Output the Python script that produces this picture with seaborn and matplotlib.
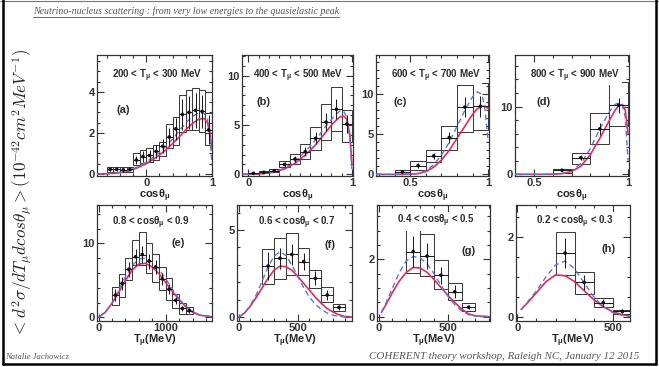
import matplotlib
matplotlib.use("Agg")
import matplotlib.pyplot as plt
from matplotlib.lines import Line2D
from matplotlib.ticker import MultipleLocator, FuncFormatter
import numpy as np
import pandas as pd
import seaborn as sns

# ---------------- data: panel (a) 200 < T < 300 MeV ----------------
A_CENTERS = [-0.55, -0.45, -0.35, -0.25, -0.15, -0.05, 0.05, 0.15, 0.25, 0.35, 0.45, 0.55, 0.65, 0.75, 0.85, 0.95]
A_VALUES = [0.22, 0.22, 0.20, 0.22, 0.68, 0.85, 0.90, 1.10, 1.35, 1.80, 2.20, 2.90, 3.00, 3.10, 3.05, 2.15]
A_ERRORS = [0.10, 0.10, 0.10, 0.10, 0.20, 0.25, 0.25, 0.30, 0.35, 0.45, 0.55, 0.75, 0.80, 0.85, 0.80, 0.70]
A_BOX_LOW = [0.10, 0.10, 0.08, 0.10, 0.44, 0.52, 0.60, 0.68, 0.88, 1.25, 1.41, 2.06, 2.15, 2.15, 2.06, 1.41]
A_BOX_HIGH = [0.35, 0.36, 0.34, 0.36, 1.04, 1.17, 1.25, 1.41, 1.58, 2.42, 2.80, 3.85, 4.10, 4.18, 4.10, 2.96]
A_CURVE_X = [-0.75, -0.6, -0.45, -0.3, -0.15, 0.0, 0.1, 0.2, 0.3, 0.4, 0.5, 0.6, 0.7, 0.8, 0.88, 0.93, 0.97, 1.0]
A_RED = [0.0, 0.01, 0.04, 0.12, 0.28, 0.50, 0.70, 0.92, 1.18, 1.48, 1.80, 2.15, 2.45, 2.68, 2.70, 2.50, 2.00, 1.20]
A_BLUE = [0.0, 0.01, 0.05, 0.14, 0.32, 0.58, 0.80, 1.05, 1.35, 1.70, 2.10, 2.48, 2.80, 2.98, 2.95, 2.70, 1.80, 0.40]

# ---------------- panel (b) 400 < T < 500 MeV ----------------
B_CENTERS = [0.05, 0.15, 0.25, 0.35, 0.45, 0.55, 0.65, 0.75, 0.85, 0.95]
B_VALUES = [0.10, 0.20, 0.35, 1.00, 1.55, 2.30, 3.65, 5.30, 6.60, 5.10]
B_ERRORS = [0.05, 0.08, 0.12, 0.30, 0.35, 0.45, 0.60, 0.90, 1.00, 0.90]
B_BOX_LOW = [0.05, 0.10, 0.20, 0.70, 1.00, 1.60, 2.50, 3.50, 4.40, 3.30]
B_BOX_HIGH = [0.15, 0.30, 0.50, 1.40, 2.10, 3.10, 4.80, 7.10, 8.90, 6.50]
B_CURVE_X = [-0.05, 0.05, 0.15, 0.25, 0.35, 0.45, 0.55, 0.65, 0.75, 0.82, 0.88, 0.92, 0.95, 0.98, 1.0]
B_RED = [0.0, 0.02, 0.08, 0.22, 0.55, 1.10, 1.95, 3.00, 4.30, 5.20, 5.80, 5.90, 5.60, 4.00, 1.00]
B_BLUE = [0.0, 0.02, 0.09, 0.25, 0.62, 1.30, 2.30, 3.50, 4.90, 5.80, 6.40, 6.40, 5.80, 3.50, 0.50]

# ---------------- panel (c) 600 < T < 700 MeV ----------------
C_CENTERS = [0.45, 0.55, 0.65, 0.75, 0.85, 0.95]
C_VALUES = [0.30, 1.10, 2.30, 4.60, 8.40, 8.50]
C_ERRORS = [0.10, 0.30, 0.40, 0.70, 1.20, 1.30]
C_BOX_LOW = [0.10, 0.60, 1.50, 3.00, 5.30, 5.50]
C_BOX_HIGH = [0.55, 1.70, 3.10, 6.10, 11.2, 11.4]
C_CURVE_X = [0.28, 0.4, 0.5, 0.55, 0.6, 0.65, 0.7, 0.75, 0.8, 0.85, 0.9, 0.93, 0.96, 0.98, 1.0]
C_RED = [0.0, 0.0, 0.02, 0.10, 0.35, 0.90, 1.80, 3.00, 4.50, 6.00, 7.50, 8.20, 8.50, 8.50, 8.20]
C_BLUE = [0.0, 0.0, 0.02, 0.12, 0.45, 1.20, 2.40, 4.00, 6.00, 8.00, 9.70, 10.3, 10.0, 8.00, 4.00]

# ---------------- panel (d) 800 < T < 900 MeV ----------------
D_CENTERS = [0.65, 0.75, 0.85, 0.95]
D_VALUES = [0.60, 2.45, 6.70, 10.2]
D_ERRORS = [0.15, 0.40, 0.90, 1.10]
D_BOX_LOW = [0.25, 1.50, 4.40, 7.10]
D_BOX_HIGH = [0.85, 3.20, 9.10, 13.6]
D_CURVE_X = [0.4, 0.55, 0.6, 0.65, 0.7, 0.75, 0.8, 0.85, 0.9, 0.93, 0.95, 0.97, 0.985, 1.0]
D_RED = [0.0, 0.0, 0.02, 0.10, 0.40, 1.20, 2.90, 5.30, 7.90, 9.40, 10.1, 10.3, 9.50, 6.00]
D_BLUE = [0.0, 0.0, 0.02, 0.12, 0.50, 1.60, 3.80, 6.70, 9.20, 10.3, 10.5, 10.2, 8.50, 2.00]

# ---------------- panel (e) 0.8 < cos < 0.9 ----------------
E_CENTERS = [250, 350, 450, 550, 650, 750, 850, 950, 1050, 1150, 1250, 1350]
E_VALUES = [3.0, 4.6, 6.5, 8.2, 8.5, 7.6, 6.8, 5.2, 3.8, 2.3, 1.2, 0.9]
E_ERRORS = [0.8, 0.9, 1.0, 1.1, 1.1, 1.0, 0.9, 0.8, 0.7, 0.5, 0.35, 0.3]
E_BOX_LOW = [1.7, 2.8, 5.0, 7.1, 7.1, 6.0, 4.8, 3.7, 2.3, 1.2, 0.45, 0.45]
E_BOX_HIGH = [4.05, 5.9, 8.0, 10.5, 11.6, 10.0, 8.6, 6.8, 5.3, 3.2, 1.9, 1.4]
E_CURVE_X = [0, 100, 200, 300, 400, 500, 600, 700, 800, 900, 1000, 1100, 1200, 1300, 1400, 1500, 1700]
E_RED = [0.0, 0.7, 1.9, 3.4, 5.0, 6.4, 7.2, 7.3, 6.8, 5.9, 4.7, 3.5, 2.4, 1.4, 0.7, 0.3, 0.05]
E_BLUE = [0.0, 0.7, 2.0, 3.7, 5.5, 7.0, 7.9, 8.0, 7.5, 6.5, 5.2, 3.8, 2.5, 1.5, 0.8, 0.35, 0.05]

# ---------------- panel (f) 0.6 < cos < 0.7 ----------------
F_CENTERS = [250, 350, 450, 550, 650, 750, 850]
F_VALUES = [2.94, 3.38, 3.60, 3.19, 2.23, 1.28, 0.57]
F_ERRORS = [0.80, 0.60, 0.60, 0.50, 0.40, 0.30, 0.15]
F_BOX_LOW = [1.90, 2.18, 2.40, 2.45, 1.66, 0.90, 0.38]
F_BOX_HIGH = [3.90, 4.56, 4.80, 3.95, 2.70, 1.75, 0.74]
F_CURVE_X = [0, 50, 100, 150, 200, 250, 300, 350, 400, 450, 500, 550, 600, 650, 700, 750, 800, 850, 900, 960]
F_RED = [0.0, 0.25, 0.65, 1.15, 1.70, 2.25, 2.70, 2.93, 2.90, 2.70, 2.35, 1.95, 1.55, 1.15, 0.80, 0.50, 0.30, 0.15, 0.05, 0.02]
F_BLUE = [0.0, 0.25, 0.70, 1.30, 2.10, 2.90, 3.50, 3.75, 3.55, 3.00, 2.35, 1.70, 1.15, 0.75, 0.45, 0.25, 0.12, 0.05, 0.02, 0.0]

# ---------------- panel (g) 0.4 < cos < 0.5 ----------------
G_CENTERS = [250, 350, 450, 550, 650]
G_VALUES = [2.27, 2.12, 1.45, 0.87, 0.33]
G_ERRORS = [0.55, 0.45, 0.30, 0.22, 0.07]
G_BOX_LOW = [1.51, 1.42, 0.95, 0.58, 0.21]
G_BOX_HIGH = [3.08, 2.88, 1.98, 1.19, 0.47]
G_CURVE_X = [20, 50, 100, 150, 200, 250, 300, 350, 400, 450, 500, 550, 600, 650, 700, 805]
G_RED = [0.15, 0.40, 0.85, 1.25, 1.55, 1.72, 1.70, 1.55, 1.30, 1.02, 0.75, 0.50, 0.27, 0.10, 0.03, 0.0]
G_BLUE = [0.15, 0.45, 1.00, 1.55, 1.95, 2.10, 2.05, 1.85, 1.50, 1.10, 0.72, 0.42, 0.20, 0.07, 0.02, 0.0]

# ---------------- panel (h) 0.2 < cos < 0.3 ----------------
H_CENTERS = [250, 350, 450, 550]
H_VALUES = [1.60, 0.86, 0.35, 0.13]
H_ERRORS = [0.38, 0.20, 0.10, 0.05]
H_BOX_LOW = [1.05, 0.57, 0.24, 0.07]
H_BOX_HIGH = [2.12, 1.13, 0.46, 0.17]
H_CURVE_X = [20, 50, 100, 150, 200, 250, 300, 350, 400, 450, 500, 550, 590]
H_RED = [0.18, 0.33, 0.60, 0.88, 1.05, 1.03, 0.88, 0.65, 0.43, 0.25, 0.12, 0.05, 0.01]
H_BLUE = [0.18, 0.35, 0.65, 1.00, 1.30, 1.40, 1.20, 0.85, 0.50, 0.25, 0.10, 0.03, 0.0]

TITLES = [r"200 < T$_{\mu}$ < 300 MeV", r"400 < T$_{\mu}$ < 500 MeV",
          r"600 < T$_{\mu}$ < 700 MeV", r"800 < T$_{\mu}$ < 900 MeV",
          r"0.8 < cosθ$_{\mu}$ < 0.9", r"0.6 < cosθ$_{\mu}$ < 0.7",
          r"0.4 < cosθ$_{\mu}$ < 0.5", r"0.2 < cosθ$_{\mu}$ < 0.3"]
LETTERS = ["(a)", "(b)", "(c)", "(d)", "(e)", "(f)", "(g)", "(h)"]
XLABELS = [r"cosθ$_{\mu}$"] * 4 + [r"T$_{\mu}$(MeV)"] * 4

# ---------------- style ----------------
sns.set_theme(style="white")
plt.rcParams.update({
    "font.family": ["Liberation Sans", "DejaVu Sans"],
    "font.weight": "bold",
    "mathtext.fontset": "custom",
    "mathtext.rm": "Liberation Sans:bold",
    "mathtext.it": "Liberation Sans:bold",
    "mathtext.bf": "Liberation Sans:bold",
    "axes.edgecolor": "#333333",
    "axes.linewidth": 0.9,
    "text.color": "#222222",
    "xtick.color": "#333333",
    "ytick.color": "#333333",
})

W, H = 659, 367
RED = "#e32b5b"
BLUE = "#5a78d8"
INK = "#2b2b2b"

fig = plt.figure(figsize=(W / 100, H / 100), dpi=100)
fig.patch.set_facecolor("white")

# axes boxes in pixels: left, top, right, bottom
BOXES = [(97, 55, 212, 176), (242, 55, 353, 176), (376, 55, 489, 176), (515, 55, 629, 176),
         (97, 205, 212, 321), (237, 205, 352, 321), (377, 205, 490, 321), (516, 205, 630, 321)]
XLIMS = [(-0.75, 1.0), (-0.06, 1.01), (0.28, 1.005), (0.40, 1.005),
         (-25, 1690), (-14, 960), (-12, 805), (-7, 590)]
YLIMS = [(-0.1, 5.8), (-0.17, 12.1), (-0.2, 14.9), (-0.25, 17.6),
         (-0.5, 15.2), (-0.21, 6.43), (-0.15, 3.9), (-0.11, 2.81)]
XMAJOR = [1, 1, 0.5, 0.5, 1000, 500, 500, 500]
XMINOR = [0.2, 0.1, 0.1, 0.1, 200, 100, 100, 100]
YMAJOR = [2, 5, 5, 10, 10, 5, 2, 2]
YMINOR = [0.5, 1, 1, 2, 2, 1, 0.5, 0.5]
BINW = [0.1, 0.1, 0.1, 0.1, 100, 100, 100, 100]
TITLE_POS = [(0.52, 0.83), (0.505, 0.83), (0.53, 0.83), (0.53, 0.83),
             (0.465, 0.85), (0.52, 0.845), (0.52, 0.86), (0.52, 0.855)]
LETTER_POS = [(0.23, 0.545), (0.19, 0.614), (0.21, 0.614), (0.25, 0.614),
              (0.71, 0.67), (0.81, 0.655), (0.81, 0.60), (0.81, 0.62)]

PANELS = [
    (A_CENTERS, A_VALUES, A_ERRORS, A_BOX_LOW, A_BOX_HIGH, A_CURVE_X, A_RED, A_BLUE),
    (B_CENTERS, B_VALUES, B_ERRORS, B_BOX_LOW, B_BOX_HIGH, B_CURVE_X, B_RED, B_BLUE),
    (C_CENTERS, C_VALUES, C_ERRORS, C_BOX_LOW, C_BOX_HIGH, C_CURVE_X, C_RED, C_BLUE),
    (D_CENTERS, D_VALUES, D_ERRORS, D_BOX_LOW, D_BOX_HIGH, D_CURVE_X, D_RED, D_BLUE),
    (E_CENTERS, E_VALUES, E_ERRORS, E_BOX_LOW, E_BOX_HIGH, E_CURVE_X, E_RED, E_BLUE),
    (F_CENTERS, F_VALUES, F_ERRORS, F_BOX_LOW, F_BOX_HIGH, F_CURVE_X, F_RED, F_BLUE),
    (G_CENTERS, G_VALUES, G_ERRORS, G_BOX_LOW, G_BOX_HIGH, G_CURVE_X, G_RED, G_BLUE),
    (H_CENTERS, H_VALUES, H_ERRORS, H_BOX_LOW, H_BOX_HIGH, H_CURVE_X, H_RED, H_BLUE),
]

fmt = FuncFormatter(lambda v, p: "%g" % v)

for i, (cx, val, err, blo, bhi, curx, red, blue) in enumerate(PANELS):
    l, t, r, b = BOXES[i]
    ax = fig.add_axes([l / W, 1 - b / H, (r - l) / W, (b - t) / H])
    ax.set_facecolor("white")

    pts = pd.DataFrame({"x": cx, "y": val, "err": err,
                        "lo": blo, "hi": bhi})
    curves = pd.DataFrame({"x": curx, "red": red, "blue": blue})

    # uncertainty boxes
    ax.bar(pts["x"], pts["hi"] - pts["lo"], width=BINW[i], bottom=pts["lo"],
           fill=False, edgecolor="#3c3c3c", linewidth=0.75, zorder=2)

    # model curves
    sns.lineplot(data=curves, x="x", y="red", ax=ax, color=RED, lw=1.2,
                 estimator=None, sort=False, zorder=3)
    sns.lineplot(data=curves, x="x", y="blue", ax=ax, color=BLUE, lw=1.0,
                 estimator=None, sort=False, dashes=(4, 2.5), zorder=3)

    # measured points
    ax.errorbar(pts["x"], pts["y"], yerr=pts["err"], xerr=BINW[i] / 2,
                fmt="none", ecolor="#1e1e1e", elinewidth=0.75, capsize=0, zorder=4)
    sns.scatterplot(data=pts, x="x", y="y", ax=ax, color="#111111", s=7,
                    edgecolor="none", zorder=5)

    ax.set_xlim(*XLIMS[i])
    ax.set_ylim(*YLIMS[i])
    ax.xaxis.set_major_locator(MultipleLocator(XMAJOR[i]))
    ax.xaxis.set_minor_locator(MultipleLocator(XMINOR[i]))
    ax.yaxis.set_major_locator(MultipleLocator(YMAJOR[i]))
    ax.yaxis.set_minor_locator(MultipleLocator(YMINOR[i]))
    ax.xaxis.set_major_formatter(fmt)
    ax.yaxis.set_major_formatter(fmt)
    ax.tick_params(which="both", direction="in", top=True, right=True,
                   bottom=True, left=True, width=0.8)
    ax.tick_params(which="major", length=5, labelsize=8, pad=1.5)
    ax.tick_params(which="minor", length=2.5)
    for lab in ax.get_xticklabels() + ax.get_yticklabels():
        lab.set_fontweight("bold")
    ax.set_xlabel(XLABELS[i], fontsize=8, fontweight="bold", labelpad=0)
    ax.set_ylabel("")
    for s in ax.spines.values():
        s.set_visible(True)

    tx, ty = TITLE_POS[i]
    ax.text(tx, ty, TITLES[i], transform=ax.transAxes, ha="center", va="center",
            fontsize=7, fontweight="bold", color=INK, zorder=6,
            bbox=dict(facecolor="white", edgecolor="none", pad=1.0))
    lx, ly = LETTER_POS[i]
    ax.text(lx, ly, LETTERS[i], transform=ax.transAxes, ha="center", va="center",
            fontsize=8, fontweight="bold", color=INK, zorder=6)

# shared vertical axis title
fig.text(22 / W, 1 - 193 / H,
         r"$<d^2\sigma/dT_\mu dcos\theta_\mu>(10^{-42}cm^2MeV^{-1})$",
         rotation=90, ha="center", va="center", fontsize=12.3,
         math_fontfamily="cm", color="#222222")

# slide header and footer
header = fig.text(33 / W, 1 - 14 / H,
                  "Neutrino-nucleus scattering : from very low energies to the quasielastic peak",
                  ha="left", va="baseline", fontsize=7.1, family="Liberation Serif",
                  style="italic", fontweight="normal", color="#555555")
fig.text(5 / W, 1 - 359 / H, "Natalie Jachowicz", ha="left", va="baseline",
         fontsize=6.2, family="Liberation Serif", style="italic",
         fontweight="normal", color="#555555")
fig.text(639 / W, 1 - 359 / H, "COHERENT theory workshop, Raleigh NC, January 12 2015",
         ha="right", va="baseline", fontsize=7.9, family="Liberation Serif",
         style="italic", fontweight="normal", color="#555555")

# underline the header
fig.canvas.draw()
bb = header.get_window_extent(fig.canvas.get_renderer())
yline = (bb.y0 - 1.0) / H
fig.add_artist(Line2D([bb.x0 / W, bb.x1 / W], [yline, yline],
                      transform=fig.transFigure, color="#666666", lw=0.7))

# slide frame
fig.add_artist(Line2D([0, 1], [1 - 0.8 / H, 1 - 0.8 / H], transform=fig.transFigure,
                      color="#777777", lw=0.8))
fig.add_artist(Line2D([2.5 / W, 2.5 / W], [1 - 364 / H, 1], transform=fig.transFigure,
                      color="black", lw=1.8))
fig.add_artist(Line2D([656 / W, 656 / W], [1 - 364 / H, 1], transform=fig.transFigure,
                      color="black", lw=1.8))
fig.add_artist(Line2D([2.5 / W, 656 / W], [1 - 364 / H, 1 - 364 / H],
                      transform=fig.transFigure, color="black", lw=1.8))

fig.savefig("out.png", dpi=100, facecolor="white")
